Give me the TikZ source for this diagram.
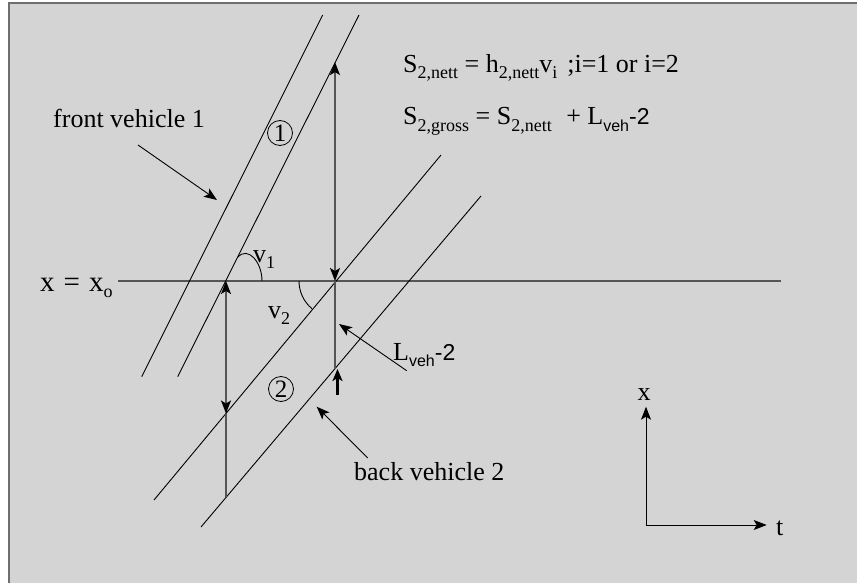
\documentclass[tikz,border=0pt]{standalone}
\usepackage{fontspec}
\setmainfont{Liberation Serif}
\newfontfamily\sansf{Liberation Sans}
\usetikzlibrary{arrows.meta}
\newcommand\sbs[1]{\raisebox{-6pt}{\fontsize{18}{18}\selectfont #1}}
\newcommand\sbsf[1]{\raisebox{-6pt}{\fontsize{16}{16}\selectfont\sansf #1}}
\newcommand\mtwo{{\fontsize{23}{26}\selectfont\sansf -2}}
\definecolor{bgc}{HTML}{D4D4D4}
\definecolor{lnc}{HTML}{555555}
\definecolor{frc}{HTML}{6E6E6E}
\begin{document}
\begin{tikzpicture}[x=1pt,y=-1pt,
  lbl/.style={inner sep=0pt, font=\fontsize{26}{30}\selectfont},
  vehline/.style={black, line width=0.9pt},
  greyline/.style={lnc, line width=1.4pt},
  headtip/.style={-{Stealth[length=13pt,width=10pt,inset=3pt,black]}},
  bothtip/.style={{Stealth[length=13pt,width=10pt,inset=3pt,black]}-{Stealth[length=13pt,width=10pt,inset=3pt,black]}},
  numcirc/.style={draw=black, line width=0.8pt, circle, inner sep=0pt, minimum size=25pt, font=\fontsize{25}{25}\selectfont}
]
\useasboundingbox (0,0) rectangle (857,583);
\fill[white] (0,0) rectangle (857,583);
\fill[bgc] (9,3) rectangle (857,583);
\draw[frc, line width=2pt] (9,583) -- (9,3) -- (857,3);

% coordinates
\coordinate (A1) at (322.7,15);  \coordinate (A2) at (141.7,376.7);
\coordinate (B1) at (359,15);    \coordinate (B2) at (177.7,376.7);
\coordinate (C1) at (441,155);   \coordinate (C2) at (154,500);
\coordinate (D1) at (481,196);   \coordinate (D2) at (201,527);
\coordinate (H1) at (118,281);   \coordinate (H2) at (781,281);
\coordinate (P) at (226,281);    \coordinate (Q) at (335,281);
\coordinate (T) at (335,62.1);   \coordinate (R) at (335,368.6);
\coordinate (S) at (226,413.5);  \coordinate (U) at (226,497.4);
\coordinate (Rt) at (337.5,369); \coordinate (Rb) at (337.5,395);

% horizontal axis x = x_o
\draw[greyline] (H1) -- (H2);

% vehicle trajectories
\draw[vehline] (A1) -- (A2);
\draw[vehline] (B1) -- (B2);
\draw[vehline] (C1) -- (C2);
\draw[vehline] (D1) -- (D2);

% vertical measures
\draw[greyline, bothtip] (T) -- (Q);
\draw[greyline] (Q) -- (R);
\draw[greyline, bothtip] (P) -- (S);
\draw[greyline] (S) -- (U);
\draw[black, line width=3pt, -{Stealth[length=12pt,width=10pt,inset=3pt]}] (Rb) -- (Rt);

% angle arcs
\coordinate (a1s) at (238,257); \coordinate (a1e) at (262,281);
\draw[vehline] (a1s) .. controls (248,246) and (262,262) .. (a1e);
\coordinate (a2s) at (299,281); \coordinate (a2e) at (312,308.7);
\draw[vehline] (a2s) .. controls (299,291.7) and (303.75,301.9) .. (a2e);

% circled numbers
\node[numcirc] (c1) at (280,133) {1};
\node[numcirc] (c2) at (281,389) {2};

% labels
\node[lbl, anchor=base west] (f1) at (403,73)
  {S\sbs{2,nett} = h\sbs{2,nett}v\sbs{i}\hspace{10pt};i=1 or i=2};
\node[lbl, anchor=base west] (f2) at (403,125)
  {S\sbs{2,gross} = S\sbs{2,nett}\hspace{8pt} + L\sbsf{veh}\mtwo};
\node[lbl, anchor=base west] (front) at (53,128) {front vehicle 1};
\node[lbl, anchor=base west] (back) at (354,480.7) {back vehicle 2};
\node[lbl, anchor=base west] (lveh) at (393,360) {L\sbsf{veh}\mtwo};
\node[lbl, anchor=base west, font=\fontsize{29}{32}\selectfont] (xo) at (40,291.7)
  {x\hspace{9pt}=\hspace{9pt}x\sbs{o}};
\node[lbl, anchor=base west] (v1) at (253,262) {v\sbs{1}};
\node[lbl, anchor=base west] (v2) at (268,318) {v\sbs{2}};

% pointer arrows
\coordinate (fa) at (138,145); \coordinate (fb) at (217,200);
\draw[black, line width=0.9pt, headtip] (fa) -- (fb);
\coordinate (la) at (406.7,370.7); \coordinate (lb) at (339,324);
\draw[black, line width=0.9pt, headtip] (la) -- (lb);
\coordinate (ba) at (367.7,458); \coordinate (bb) at (316.7,406.7);
\draw[black, line width=0.9pt, headtip] (ba) -- (bb);

% t-x axes
\coordinate (O) at (646,525);
\coordinate (Xt) at (646,406.7);
\coordinate (Tt) at (766.7,525);
\draw[black, line width=1pt, headtip] (O) -- (Xt);
\draw[black, line width=1pt, headtip] (O) -- (Tt);
\node[lbl, anchor=base] (xl) at (644,400) {x};
\node[lbl, anchor=base west] (tl) at (776,535) {t};
\end{tikzpicture}
\end{document}
